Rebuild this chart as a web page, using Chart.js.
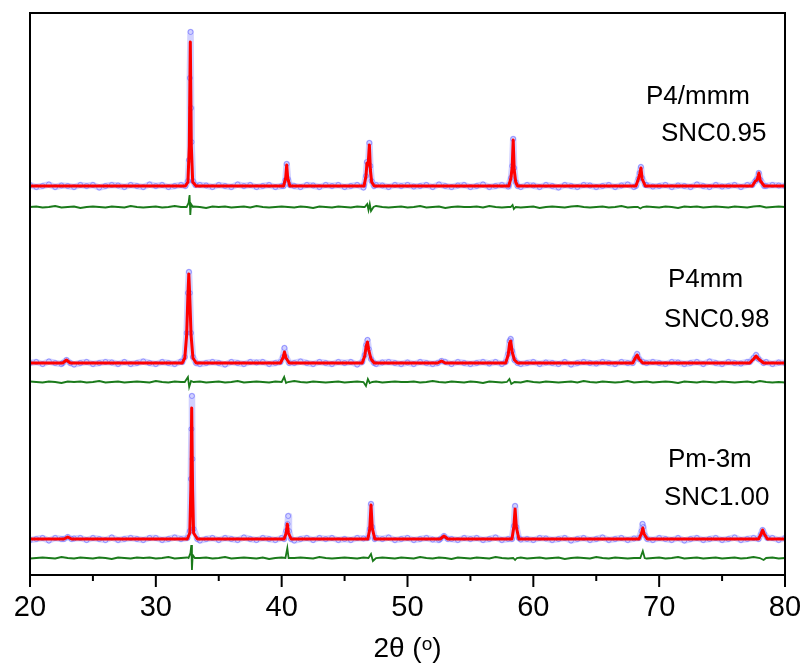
<!DOCTYPE html>
<html>
<head>
<meta charset="utf-8">
<script src="https://cdn.jsdelivr.net/npm/chart.js@4.4.1/dist/chart.umd.min.js"></script>
<style>
html,body{margin:0;padding:0;background:#fff;}
#wrap{width:808px;height:670px;position:relative;}
</style>
</head>
<body>
<div id="wrap"><canvas id="c" width="808" height="670"></canvas></div>
<script>
// ---- x grid for the background (2θ, degrees) ----
const gridX = [20,20.5,21,21.5,22,22.5,23,23.5,24,24.5,25,25.5,26,26.5,27,27.5,28,28.5,29,29.5,
30,30.5,31,31.5,32,32.5,33,33.5,34,34.5,35,35.5,36,36.5,37,37.5,38,38.5,39,39.5,
40,40.5,41,41.5,42,42.5,43,43.5,44,44.5,45,45.5,46,46.5,47,47.5,48,48.5,49,49.5,
50,50.5,51,51.5,52,52.5,53,53.5,54,54.5,55,55.5,56,56.5,57,57.5,58,58.5,59,59.5,
60,60.5,61,61.5,62,62.5,63,63.5,64,64.5,65,65.5,66,66.5,67,67.5,68,68.5,69,69.5,
70,70.5,71,71.5,72,72.5,73,73.5,74,74.5,75,75.5,76,76.5,77,77.5,78,78.5,79,79.5,80];

// ---- observed background scatter (a.u., relative to each pattern's baseline) ----
const obsNoise095 = [1,-1,0,1.5,-1,0.5,0,-1,1,0, 1,-1.5,0,1,0.5,-1,1,0,-1,1.5, 0,1,-1,0,1,-1.5,0,1,0.5,-1, 1,0,-1,1.5,0,1,-1,0,1,-1, 0,1.5,0,-1,1,0.5,-1,1,0,1, -1,0,1,-1.5,0,1,0.5,-1,1,0, 1,-0.5,0,1,-1,1.5,0,-1,0.5,1, -1,0,1.5,-1,0,1,-0.5,0,-1,1, 0.5,-1,1,0,-1.5,1,0,-1,1,0.5, -1,0,1,-1,0.5,1.5,-1,0,1,-0.5, 0,1,-1,0.5,0,-1,1.5,0,-1,1, -0.5,0,1,-1,1,0.5,-1,0,1,0.5, 0];
const obsNoise098 = [0,1,-1,1.5,0,-1,1,-1.5,0,1, -1,0,1,0.5,-1,1,-1,0,1.5,0, -1,1,0,-1,1.5,0,1,-1,0,1, 0,-1.5,1,0,-1,1,0.5,1,-1,0, 1,-1,0,1.5,0,-1,1,0,-1,1, 0,1,-1.5,0,1,-1,0.5,1,0,-1, 0.5,-1,1,0,-1,1.5,0,-1,1,0, -1,0,1,-0.5,1,-1,0,1.5,-1,0, 1,-1,0.5,0,-1,1,-1.5,0,1,0, -0.5,1,0,-1,1,0,1.5,-1,0,1, 0,-1,1,0.5,-1,0,1,-1,1.5,0, -1,1,0,-0.5,1,-1,0,1,-1,0.5, 0];
const obsNoise100 = [-1,0,1,-1.5,1,0,-1,0.5,1,-1, 1,0,-1,1.5,-1,0,1,0,-1,1, 1,-1,0,1.5,0,-1,1,-1.5,0,1, -1,1,0,-1,1.5,0,-1,1,0,-1, 1,0,-1.5,0,1,-1,1,0,1,-1, 0,-1,1,0.5,-1,1,0,1.5,-1,0, 1,-1,0,1,-0.5,-1,1.5,0,-1,1, 0,1,-1,0,1.5,-1,0,1,-0.5,0, -1,1,0.5,-1,0,1,-1.5,0,1,-1, 0,1.5,-1,0,1,-1,0.5,1,0,-1, 1,0,-1,1,-1.5,0,1,-1,0,1, -1,0,1.5,-1,0,1,-0.5,0,1,-1, 1];

// ---- difference-curve background ----
const diffNoise095 = [0,0.5,-0.5,0,1,-0.5,0,0.5,-1,0, 0.5,0,-0.5,0.5,0,-0.5,1,0,-0.5,0, 0.5,-0.5,0,1,0,-0.5,0.5,0,-1,0.5, 0,0.5,-0.5,0,0.5,-0.5,1,0,-0.5,0, 0.5,0,-0.5,0.5,0,-1,0.5,0,-0.5,0.5, 0,-0.5,0.5,0,-0.5,1,0,-0.5,0,0.5, -0.5,0,1,-0.5,0,0.5,-1,0,0.5,0, 0,0.5,-0.5,1,0,-0.5,0,0.5,-0.5,0, 0.5,-1,0,0.5,0,-0.5,0.5,1,0,-0.5, 0,0.5,-0.5,0,1,-0.5,0,-0.5,0.5,0, -0.5,0.5,0,-1,0.5,0,0.5,-0.5,0,0.5, 0,-0.5,0.5,0,-0.5,0.5,1,-0.5,0,0.5, 0];
const diffNoise098 = [0.5,0,-0.5,0.5,0,-1,0.5,0,0.5,-0.5, 0,1,-0.5,0,0.5,-0.5,0,0.5,0,-0.5, 1,0,-0.5,0.5,0,-0.5,0,0.5,-0.5,0, 0.5,-0.5,0,1,-0.5,0,0.5,0,-0.5,0.5, 0,-0.5,1,0,-0.5,0.5,0,-0.5,0,0.5, -0.5,0,0.5,-1,0,0.5,-0.5,0,0.5,0, 0,0.5,-0.5,0,1,0,-0.5,0.5,0,-0.5, 0.5,0,-1,0.5,0,-0.5,0.5,0,-0.5,1, 0,-0.5,0.5,0,-0.5,0,0.5,-0.5,1,0, -0.5,0.5,0,-0.5,0,1,-0.5,0,0.5,-0.5, 0,0.5,0,-1,0.5,0,-0.5,0.5,0,-0.5, 0.5,0,-0.5,0,0.5,-0.5,1,0,-0.5,0, -0.5];
const diffNoise100 = [-0.5,0,0.5,0,-0.5,1,0,-0.5,0.5,0, -0.5,0.5,0,-1,0.5,0,-0.5,0.5,0,0.5, -0.5,0,1,-0.5,0,0.5,-0.5,0,0.5,-0.5, 0,1,-0.5,0,0.5,0,-0.5,0.5,-1,0, 0.5,-0.5,0,0.5,0,-0.5,1,0,-0.5,0, 0.5,0,-0.5,0.5,-0.5,0,0.5,0,-0.5,0.5, 0,-0.5,1,0,-0.5,0.5,0,-1,0.5,0, -0.5,0.5,0,-0.5,1,0,-0.5,0,0.5,-0.5, 0,0.5,-0.5,0,0.5,-1,0,0.5,0,-0.5, 1,0,-0.5,0.5,0,-0.5,0,0.5,-0.5,0, 0.5,-0.5,0,1,-0.5,0,0.5,-0.5,0,0.5, -0.5,0,0.5,-0.5,0,1,-0.5,0,0.5,-0.5, 0];

// ---- calculated (fit) peak profiles [2θ, intensity] ----
const calcPeaks095 = [
  [[32.35,0],[32.55,4],[32.66,40],[32.74,144],[32.82,40],[32.93,4],[33.2,0]],
  [[40.15,0],[40.32,8],[40.4,21],[40.48,8],[40.65,0]],
  [[46.55,0],[46.7,10],[46.78,23],[46.87,21],[46.97,41],[47.05,16],[47.15,4],[47.35,0]],
  [[58.05,0],[58.22,8],[58.32,19],[58.4,46],[58.48,16],[58.6,4],[58.75,0]],
  [[68.15,0],[68.35,7],[68.45,12],[68.55,18],[68.65,7],[68.9,0]],
  [[77.4,0],[77.65,5],[77.78,6],[77.92,13],[78.05,5],[78.35,0]]
];
const calcPeaks098 = [
  [[22.6,0],[22.9,3],[23.2,0]],
  [[32.1,0],[32.3,5],[32.45,28],[32.55,68],[32.62,89],[32.69,68],[32.8,28],[32.95,5],[33.2,0]],
  [[39.9,0],[40.1,5],[40.22,11],[40.35,5],[40.6,0]],
  [[46.4,0],[46.6,7],[46.72,17],[46.82,21],[46.92,13],[47.1,4],[47.35,0]],
  [[52.4,0],[52.7,2],[53.0,0]],
  [[57.8,0],[58.0,8],[58.12,20],[58.2,22],[58.32,11],[58.5,3],[58.75,0]],
  [[67.9,0],[68.1,5],[68.25,8],[68.4,4],[68.7,0]],
  [[77.2,0],[77.5,4],[77.7,7],[77.9,4],[78.3,0]]
];
const calcPeaks100 = [
  [[22.7,0],[23.0,2],[23.3,0]],
  [[32.5,0],[32.7,6],[32.78,50],[32.85,131],[32.92,50],[33.0,6],[33.3,0]],
  [[40.2,0],[40.36,6],[40.45,15],[40.54,6],[40.75,0]],
  [[46.85,0],[47.0,10],[47.1,34],[47.2,11],[47.4,0]],
  [[52.6,0],[52.9,3],[53.2,0]],
  [[58.3,0],[58.45,12],[58.55,30],[58.65,12],[58.85,0]],
  [[68.4,0],[68.6,6],[68.7,11],[68.8,5],[69.05,0]],
  [[77.9,0],[78.1,5],[78.22,9],[78.35,5],[78.6,0]]
];

// ---- observed points at the peaks ----
const obsPeaks095 = [
  [[32.35,0],[32.55,5],[32.64,26],[32.7,108],[32.76,154],[32.8,78],[32.84,44],[32.95,5],[33.15,1]],
  [[40.15,0],[40.3,6],[40.4,22],[40.5,7],[40.65,1]],
  [[46.55,1],[46.7,10],[46.78,24],[46.88,22],[46.97,43],[47.05,20],[47.15,5],[47.35,0]],
  [[58.05,1],[58.22,8],[58.32,20],[58.4,47],[58.48,18],[58.6,4],[58.75,0]],
  [[68.15,0],[68.35,7],[68.45,13],[68.55,19],[68.65,8],[68.9,1]],
  [[77.4,1],[77.65,5],[77.78,7],[77.92,13],[78.05,6],[78.35,0]]
];
const obsPeaks098 = [
  [[22.6,0],[22.9,3],[23.2,0]],
  [[32.1,1],[32.3,6],[32.45,30],[32.55,70],[32.63,91],[32.7,70],[32.8,30],[32.95,6],[33.2,0]],
  [[39.9,1],[40.1,6],[40.22,15],[40.35,6],[40.6,0]],
  [[46.4,1],[46.6,8],[46.72,18],[46.82,23],[46.92,14],[47.1,4],[47.35,0]],
  [[52.4,0],[52.7,2],[53.0,1]],
  [[57.8,1],[58.0,9],[58.12,22],[58.2,24],[58.32,12],[58.5,3],[58.75,0]],
  [[67.9,0],[68.1,5],[68.25,9],[68.4,4],[68.7,1]],
  [[77.2,1],[77.5,5],[77.7,8],[77.9,4],[78.3,0]]
];
const obsPeaks100 = [
  [[22.7,0],[23.0,2],[23.3,0]],
  [[32.5,1],[32.7,8],[32.78,60],[32.83,110],[32.87,143],[32.91,80],[33.0,10],[33.3,0]],
  [[40.2,0],[40.36,8],[40.47,15],[40.52,23],[40.58,8],[40.75,0]],
  [[46.85,1],[47.0,10],[47.1,35],[47.2,12],[47.4,0]],
  [[52.6,0],[52.9,3],[53.2,0]],
  [[58.3,0],[58.45,13],[58.55,33],[58.65,12],[58.85,1]],
  [[68.4,1],[68.6,8],[68.68,15],[68.74,12],[68.85,4],[69.05,0]],
  [[77.9,0],[78.1,5],[78.22,9],[78.35,5],[78.6,1]]
];

// ---- difference spikes ----
const diffPeaks095 = [
  [[32.45,0],[32.6,4],[32.68,12],[32.74,-8],[32.8,3],[32.95,0]],
  [[46.6,0],[46.8,3],[46.9,-3],[47.0,3],[47.1,-4],[47.3,0]],
  [[58.2,0],[58.35,2],[58.45,-2],[58.6,0]],
  [[68.3,0],[68.5,-1.5],[68.7,0]]
];
const diffPeaks098 = [
  [[32.3,0],[32.55,5],[32.65,-5],[32.8,1],[33.0,0]],
  [[40.0,0],[40.2,5],[40.35,-1],[40.5,0]],
  [[46.5,0],[46.7,-4],[46.85,3],[47.0,-1],[47.2,0]],
  [[57.9,0],[58.1,3],[58.25,-2],[58.5,0]]
];
const diffPeaks100 = [
  [[32.6,0],[32.75,5],[32.82,13],[32.87,-12],[32.93,3],[33.1,0]],
  [[40.3,0],[40.45,10],[40.55,0]],
  [[46.9,0],[47.1,4],[47.25,-3],[47.5,0]],
  [[58.4,0],[58.55,-2],[58.7,0]],
  [[68.5,0],[68.7,7],[68.85,0]],
  [[78.0,0],[78.3,-2],[78.5,0]]
];

// ---- stacking offsets (a.u.) ----
const offsetPattern = {s095: 389, s098: 212, s100: 36};
const offsetDiff    = {s095: 368, s098: 193, s100: 17};

const xTicks = [20,30,40,50,60,70,80];
const sampleLabels = ['SNC0.95','SNC0.98','SNC1.00'];
const phaseLabels  = ['P4/mmm','P4mm','Pm-3m'];

// merge background grid values with peak clusters (grid points inside a cluster are dropped)
function mergeSeries(noise, clusters, offset){
  const pts = [];
  gridX.forEach((x,i)=>{
    if(noise[i] === undefined) return;
    const inside = clusters.some(c => x >= c[0][0] && x <= c[c.length-1][0]);
    if(!inside) pts.push({x:x, y:noise[i] + offset});
  });
  clusters.forEach(c => c.forEach(p => pts.push({x:p[0], y:p[1] + offset})));
  pts.sort((a,b)=>a.x-b.x);
  return pts;
}
function calcSeries(clusters, offset){
  const pts = [{x:20,y:offset}];
  clusters.forEach(c => c.forEach(p => pts.push({x:p[0], y:p[1] + offset})));
  pts.push({x:80,y:offset});
  return pts;
}

const RED = '#ff0000';
const BLUE_LINE = 'rgba(90,90,255,0.28)';
const BLUE_PT = 'rgba(100,100,255,0.6)';
const GREEN = '#1a7a1a';

const datasets = [];
[['s095',obsNoise095,obsPeaks095,calcPeaks095,diffNoise095,diffPeaks095],
 ['s098',obsNoise098,obsPeaks098,calcPeaks098,diffNoise098,diffPeaks098],
 ['s100',obsNoise100,obsPeaks100,calcPeaks100,diffNoise100,diffPeaks100]].forEach(r=>{
  const [k,on,op,cp,dn,dp] = r;
  datasets.push({label:'obs '+k, data: mergeSeries(on,op,offsetPattern[k]), order:2,
    borderColor:BLUE_LINE, borderWidth:6.5, borderJoinStyle:'round', borderCapStyle:'round',
    pointRadius:2.5, pointBorderWidth:1,
    pointBorderColor:BLUE_PT, pointBackgroundColor:'rgba(0,0,0,0)', fill:false});
  datasets.push({label:'calc '+k, data: calcSeries(cp,offsetPattern[k]), order:0,
    borderColor:RED, borderWidth:3, borderJoinStyle:'round', pointRadius:0, fill:false});
  datasets.push({label:'diff '+k, data: mergeSeries(dn,dp,offsetDiff[k]), order:1,
    borderColor:GREEN, borderWidth:1.8, pointRadius:0, fill:false});
});

const framePlugin = {
  id:'frame',
  afterDatasetsDraw(chart){
    const {ctx, chartArea:a, scales:{x}} = chart;
    ctx.save();
    ctx.strokeStyle = '#000';
    ctx.lineWidth = 2;
    ctx.strokeRect(a.left, a.top, a.right-a.left, a.bottom-a.top);
    x.ticks.forEach(t=>{
      const px = x.getPixelForValue(t.value);
      const len = (t.value % 10 === 0) ? 12 : 6;
      ctx.beginPath();
      ctx.moveTo(px, a.bottom);
      ctx.lineTo(px, a.bottom + len);
      ctx.stroke();
    });
    // phase / sample labels
    ctx.fillStyle = '#000';
    ctx.font = '26px "Liberation Sans", Arial, sans-serif';
    ctx.textAlign = 'left';
    ctx.textBaseline = 'alphabetic';
    const pos = [[646,104],[668,287],[668,467]];
    const pos2 = [[661,141],[664,327],[664,505]];
    phaseLabels.forEach((s,i)=>ctx.fillText(s, pos[i][0], pos[i][1]));
    sampleLabels.forEach((s,i)=>ctx.fillText(s, pos2[i][0], pos2[i][1]));
    ctx.restore();
  }
};

new Chart(document.getElementById('c'), {
  type:'line',
  data:{datasets},
  options:{
    responsive:false,
    animation:false,
    events:[],
    layout:{padding:{left:30,right:23,top:13,bottom:0}},
    elements:{line:{tension:0}},
    plugins:{legend:{display:false}, tooltip:{enabled:false}},
    scales:{
      x:{
        type:'linear', min:20, max:80,
        afterFit(s){ s.height = 95; },
        grid:{display:true, drawOnChartArea:false, drawTicks:true, tickLength:12, color:'rgba(0,0,0,0)'},
        border:{display:false},
        ticks:{
          stepSize:5, autoSkip:false, maxRotation:0, padding:4, color:'#000',
          font:{family:'"Liberation Sans", Arial, sans-serif', size:29},
          callback:(v)=> xTicks.includes(v) ? String(v) : ''
        },
        title:{display:true, text:'2θ (ᵒ)', color:'#000',
          font:{family:'"Liberation Sans", "DejaVu Sans", Arial, sans-serif', size:28}, padding:{top:4,bottom:4}}
      },
      y:{display:false, min:0, max:562}
    }
  },
  plugins:[framePlugin]
});
</script>
</body>
</html>
